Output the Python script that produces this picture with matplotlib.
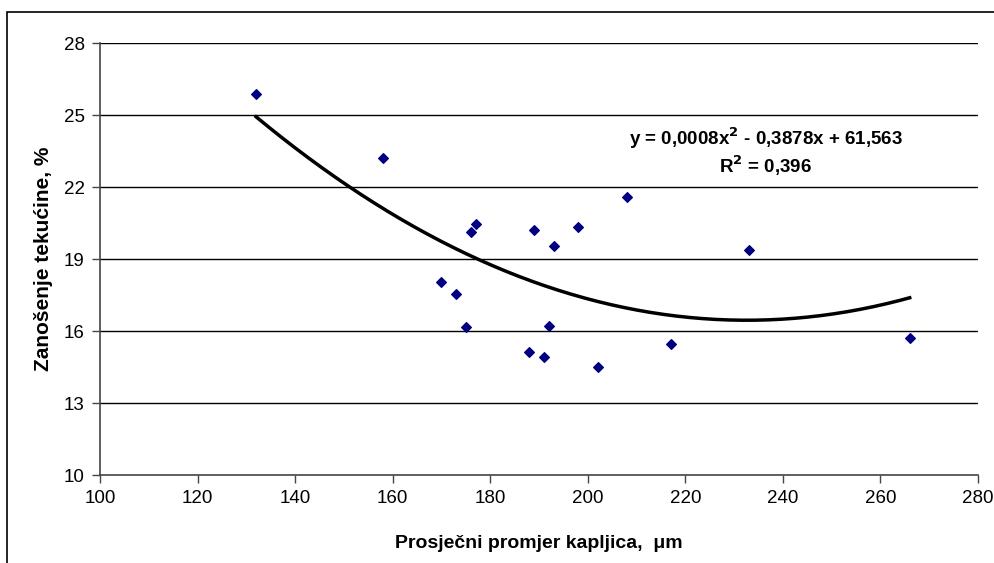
import numpy as np
import matplotlib.pyplot as plt
from matplotlib.patches import Rectangle

plt.rcParams['font.family'] = ['Liberation Sans', 'DejaVu Sans']

# mean droplet diameter (um) and liquid drift (%)
promjer = [132, 158, 170, 173, 175, 176, 177, 188, 189, 191, 192, 193, 198, 202, 208, 217, 233, 266]
zanosenje = [25.86, 23.20, 18.05, 17.55, 16.17, 20.14, 20.47, 15.11, 20.20, 14.90, 16.22, 19.54,
             20.32, 14.50, 21.58, 15.45, 19.36, 15.72]

x_ticks = [100, 120, 140, 160, 180, 200, 220, 240, 260, 280]
y_ticks = [10, 13, 16, 19, 22, 25, 28]

fig = plt.figure(figsize=(9.94, 5.63), dpi=100)
ax = fig.add_axes([100 / 994, 1 - 475 / 563, 878 / 994, 432 / 563])

# outer frame like the Excel chart area
fig.patches.append(Rectangle((7 / 994, -0.05), 1.2, 1 - 12 / 563 + 0.05, transform=fig.transFigure,
                             fill=False, edgecolor='black', linewidth=1.2))

for yv in y_ticks[1:]:
    ax.axhline(yv, color='black', linewidth=1.0, zorder=1)

ax.scatter(promjer, zanosenje, marker='D', s=24, color='#000080', zorder=3)

# 2nd order polynomial trend line
coef = np.polyfit(promjer, zanosenje, 2)
xs = np.linspace(min(promjer), max(promjer), 200)
ax.plot(xs, np.polyval(coef, xs), color='black', linewidth=2.5, zorder=2)

ax.text(236.5, 24.05, r'y = 0,0008x$^{\mathbf{2}}$ - 0,3878x + 61,563', ha='center', va='center',
        fontsize=13.5, fontweight='bold')
ax.text(236.5, 22.9, r'R$^{\mathbf{2}}$ = 0,396', ha='center', va='center',
        fontsize=13.5, fontweight='bold')

ax.set_xlim(100, 280)
ax.set_ylim(10, 28)
ax.set_xticks(x_ticks)
ax.set_yticks(y_ticks)
ax.tick_params(axis='both', labelsize=13.5, direction='out', length=6, width=1, color='#444444', pad=5)

for side in ['top', 'right']:
    ax.spines[side].set_visible(False)
for side in ['left', 'bottom']:
    ax.spines[side].set_color('#444444')
    ax.spines[side].set_linewidth(1.2)

ax.set_xlabel('Prosječni promjer kapljica,  μm', fontsize=14, fontweight='bold', labelpad=20)
ax.set_ylabel('Zanošenje tekućine, %', fontsize=15, fontweight='bold', labelpad=8)

fig.savefig('out.png', dpi=100)
